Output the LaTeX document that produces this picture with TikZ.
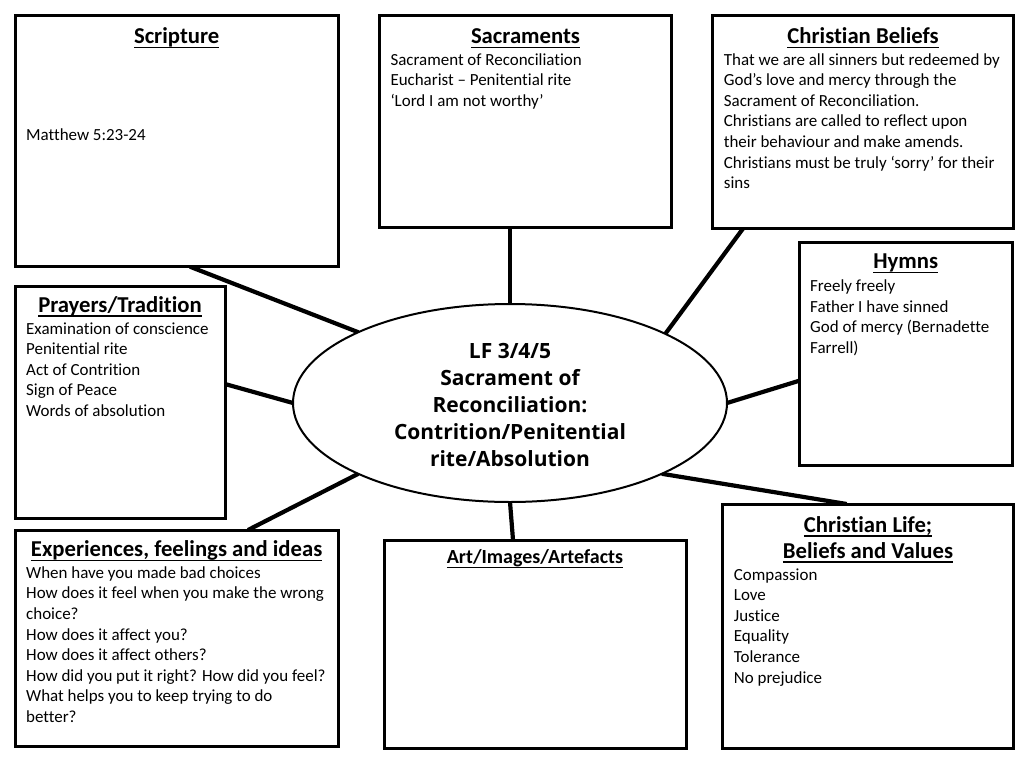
\documentclass[tikz,border=0pt]{standalone}
\usepackage{fontspec}
\setmainfont{Carlito}[Ligatures=NoCommon]
\newfontfamily\ellfont{Open Sans}
\usetikzlibrary{shapes.geometric,calc}
\pgfdeclarelayer{back}
\pgfdeclarelayer{bg}
\pgfsetlayers{back,bg,main}
\newcommand\myul[1]{\setbox0=\hbox{#1}\rlap{\rule[-4.6pt]{\wd0}{1.5pt}}\box0}
\newcommand\lns[1]{\begin{tabular}[t]{@{}l@{}}#1\end{tabular}}
\begin{document}
\begin{tikzpicture}[x=1pt,y=-1pt,
  box/.style={draw=black, line width=3pt, fill=white, anchor=north west, outer sep=0pt, inner sep=0pt},
  ttl/.style={font=\fontsize{22.7}{26}\selectfont\bfseries, anchor=base, inner sep=0pt},
  body/.style={font=\fontsize{16.95}{20.6}\selectfont, anchor=base west, inner sep=0pt},
  link/.style={line width=4.2pt, line cap=butt},
  ell/.style={ellipse, draw=black, line width=2pt, fill=white, inner sep=0pt, outer sep=0pt},
  elltext/.style={font=\fontsize{21}{27}\selectfont\ellfont\bfseries, anchor=base, inner sep=0pt}
]
\begin{pgfonlayer}{back}
\fill[white] (0,0) rectangle (1024,768);
\end{pgfonlayer}
\useasboundingbox (0,0) rectangle (1024,768);

% boxes
\node[box, minimum width=323.3, minimum height=250.7] (scr) at (15,16) {};
\node[box, minimum width=292.4, minimum height=211] (sac) at (379.3,16) {};
\node[box, minimum width=300.6, minimum height=212.3] (bel) at (712.7,16) {};
\node[box, minimum width=213.3, minimum height=222.7] (hym) at (799,242.3) {};
\node[box, minimum width=210, minimum height=232.3] (pra) at (15,286) {};
\node[box, minimum width=323.3, minimum height=216.7] (exp) at (15,530) {};
\node[box, minimum width=302, minimum height=208] (art) at (384,540) {};
\node[box, minimum width=290.6, minimum height=244.3] (lif) at (722.7,504) {};

% central ellipse
\node[ell, minimum width=434, minimum height=198] (ell) at (510,403) {};
\node[elltext] (ellT) at (510,358.3) {\begin{tabular}[t]{@{}c@{}}LF 3/4/5\\Sacrament of\\Reconciliation:\\Contrition/Penitential\\rite/Absolution\end{tabular}};

% titles
\node[ttl] (scrT) at ($(scr.north)+(0,27.5)$) {\myul{Scripture}};
\node[ttl] (sacT) at ($(sac.north)+(0,27.5)$) {\myul{Sacraments}};
\node[ttl] (belT) at ($(bel.north)+(0,27.5)$) {\myul{Christian Beliefs}};
\node[ttl] (hymT) at ($(hym.north)+(0,26.5)$) {\myul{Hymns}};
\node[ttl] (praT) at ($(pra.north)+(0,26.2)$) {\myul{Prayers/Tradition}};
\node[ttl] (expT) at ($(exp.north)+(0,26.5)$) {\myul{Experiences, feelings and ideas}};
\node[ttl, font=\fontsize{20}{24}\selectfont\bfseries] (artT) at ($(art.north)+(0,23.8)$) {\myul{Art/Images/Artefacts}};
\node[ttl] (lifT) at ($(lif.north)+(0,28.2)$) {\begin{tabular}[t]{@{}c@{}}\myul{Christian Life;}\\[0pt]\myul{Beliefs and Values}\end{tabular}};

% body texts
\node[body] (scrB) at ($(scr.north west)+(11,124)$) {\lns{Matthew 5:23-24}};
\node[body] (sacB) at ($(sac.north west)+(11,49)$) {\lns{Sacrament of Reconciliation\\Eucharist – Penitential rite\\‘Lord I am not worthy’}};
\node[body] (belB) at ($(bel.north west)+(11,49)$) {\lns{That we are all sinners but redeemed by\\God’s love and mercy through the\\Sacrament of Reconciliation.\\Christians are called to reflect upon\\their behaviour and make amends.\\Christians must be truly ‘sorry’ for their\\sins}};
\node[body] (hymB) at ($(hym.north west)+(11,49.4)$) {\lns{Freely freely\\Father I have sinned\\God of mercy (Bernadette\\Farrell)}};
\node[body] (praB) at ($(pra.north west)+(11,48)$) {\lns{Examination of conscience\\Penitential rite\\Act of Contrition\\Sign of Peace\\Words of absolution}};
\node[body] (expB) at ($(exp.north west)+(11,48.3)$) {\lns{When have you made bad choices\\How does it feel when you make the wrong\\choice?\\How does it affect you?\\How does it affect others?\\How did you put it right? How did you feel?\\What helps you to keep trying to do\\better?}};
\node[body] (lifB) at ($(lif.north west)+(11,76)$) {\lns{Compassion\\Love\\Justice\\Equality\\Tolerance\\No prejudice}};

% connectors
\begin{pgfonlayer}{bg}
\draw[link] ($(scr.south west)+(175,0)$) -- (ell.155.6);
\draw[link] (ell.north |- sac.south) -- (ell.north);
\draw[link] ($(bel.south west)+(30.5,0)$) -- (ell.24.7);
\draw[link] ($(hym.north west)+(0,138.5)$) -- (ell.east);
\draw[link] ($(pra.north east)+(0,98)$) -- (ell.west);
\draw[link] ($(exp.north west)+(233,0)$) -- (ell.205.2);
\draw[link] (ell.south) -- ($(art.north)+(-22,0)$);
\draw[link] (ell.335.1) -- ($(lif.north west)+(124,0)$);
\end{pgfonlayer}
\end{tikzpicture}
\end{document}
